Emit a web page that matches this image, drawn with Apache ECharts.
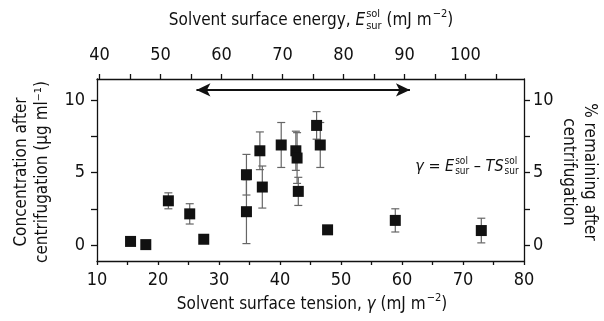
<!DOCTYPE html>
<html>
<head>
<meta charset="utf-8">
<script src="https://cdn.jsdelivr.net/npm/echarts@6/dist/echarts.min.js"></script>
<style>
  html, body { margin: 0; padding: 0; background: #fff; }
  #chart { width: 604px; height: 321px; }
</style>
</head>
<body>
<div id="chart"></div>
<script>
// solvent surface tension (mJ m-2), concentration (ug/ml), error half-width
const tension = [15.5, 18.0, 21.7, 25.2, 27.5, 34.5, 34.5, 36.7, 37.1, 40.2, 42.6, 42.8, 43.0, 46.0, 46.6, 47.8, 58.9, 73.0];
const concentration = [0.25, 0.03, 3.05, 2.15, 0.4, 4.85, 2.3, 6.5, 4.0, 6.9, 6.5, 6.0, 3.7, 8.25, 6.9, 1.05, 1.7, 1.0];
const errors = [0, 0, 0.55, 0.7, 0, 1.4, 2.2, 1.3, 1.45, 1.55, 1.35, 1.75, 0.97, 0.95, 1.55, 0.2, 0.8, 0.85];

const bottomTicks = [10, 15, 20, 25, 30, 35, 40, 45, 50, 55, 60, 65, 70, 75, 80];
const bottomLabels = [10, 20, 30, 40, 50, 60, 70, 80];
const topTicks = [40, 45, 50, 55, 60, 65, 70, 75, 80, 85, 90, 95, 100, 105];
const topLabels = [40, 50, 60, 70, 80, 90, 100];
const yTicks = [0, 2.5, 5, 7.5, 10];
const yLabels = [0, 5, 10];

// good-solvent window arrow
const arrowFrom = 26.3;
const arrowTo = 61.3;
const arrowLevel = 10.7;

const F = "'Liberation Sans Narrow', 'DejaVu Sans Condensed', sans-serif";
const INK = '#111';

const ctx = document.createElement('canvas').getContext('2d');
function textWidth(t, size, italic) {
  ctx.font = (italic ? 'italic ' : '') + size + 'px ' + F;
  return ctx.measureText(t).width;
}

// lay out text pieces (with stacked sup/sub) centred on cx, cy
function formula(parts, cx, cy, size) {
  const small = Math.round(size * 0.64);
  let widths = parts.map(p => {
    if (p.t !== undefined) return textWidth(p.t, size, p.it);
    return Math.max(p.sup ? textWidth(p.sup, small) : 0, p.sub ? textWidth(p.sub, small) : 0) + 1;
  });
  const total = widths.reduce((a, b) => a + b, 0);
  let x = cx - total / 2;
  const out = [];
  parts.forEach((p, i) => {
    if (p.t !== undefined) {
      out.push({ type: 'text', x: x, y: cy, style: { text: p.t, fontSize: size, fontFamily: F, fontStyle: p.it ? 'italic' : 'normal', fill: INK, align: 'left', verticalAlign: 'middle' } });
    } else {
      if (p.sup) out.push({ type: 'text', x: x + 1, y: cy - size * 0.38, style: { text: p.sup, fontSize: small, fontFamily: F, fill: INK, align: 'left', verticalAlign: 'middle' } });
      if (p.sub) out.push({ type: 'text', x: x + 1, y: cy + size * 0.3, style: { text: p.sub, fontSize: small, fontFamily: F, fill: INK, align: 'left', verticalAlign: 'middle' } });
    }
    x += widths[i];
  });
  return out;
}

function rotated(text, x, y, rot, size) {
  return { type: 'text', x: x, y: y, rotation: rot, style: { text: text, fontSize: size, fontFamily: F, fill: INK, align: 'center', verticalAlign: 'middle' } };
}

const labelStyle = { color: INK, fontSize: 18, fontFamily: F };
const lineStyle = { color: INK, width: 1.3 };

const graphics = [].concat(
  formula([{ t: 'Solvent surface energy, ' }, { t: 'E', it: true }, { sup: 'sol', sub: 'sur' }, { t: ' (mJ m' }, { sup: '−2' }, { t: ')' }], 311, 21, 17),
  formula([{ t: 'Solvent surface tension, ' }, { t: 'γ', it: true }, { t: ' (mJ m' }, { sup: '−2' }, { t: ')' }], 312, 305, 17),
  formula([{ t: 'γ', it: true }, { t: ' = ' }, { t: 'E', it: true }, { sup: 'sol', sub: 'sur' }, { t: ' – ' }, { t: 'TS', it: true }, { sup: 'sol', sub: 'sur' }], 467, 167, 16),
  [
    rotated('Concentration after', 22, 172, Math.PI / 2, 17),
    rotated('centrifugation (μg ml⁻¹)', 43, 172, Math.PI / 2, 17),
    rotated('% remaining after', 589, 172, -Math.PI / 2, 17),
    rotated('centrifugation', 568, 172, -Math.PI / 2, 17)
  ]
);

const chart = echarts.init(document.getElementById('chart'));

chart.setOption({
  animation: false,
  grid: { left: 97, right: 80, top: 79, bottom: 60, containLabel: false },
  xAxis: [
    {
      type: 'value', position: 'bottom', min: 10, max: 80,
      axisLine: { show: true, onZero: false, lineStyle: lineStyle },
      axisTick: { show: true, customValues: bottomTicks, length: 4, lineStyle: lineStyle },
      axisLabel: { customValues: bottomLabels, margin: 10, ...labelStyle },
      splitLine: { show: false }
    },
    {
      type: 'value', position: 'top', min: 39.6, max: 109.6,
      axisLine: { show: true, onZero: false, lineStyle: lineStyle },
      axisTick: { show: true, customValues: topTicks, length: 5, lineStyle: lineStyle },
      axisLabel: { customValues: topLabels, margin: 15, ...labelStyle },
      splitLine: { show: false }
    }
  ],
  yAxis: [
    {
      type: 'value', position: 'left', min: -1.1, max: 11.45,
      axisLine: { show: true, onZero: false, lineStyle: lineStyle },
      axisTick: { show: true, customValues: yTicks, length: 6, lineStyle: lineStyle },
      axisLabel: { customValues: yLabels, margin: 12, ...labelStyle },
      splitLine: { show: false }
    },
    {
      type: 'value', position: 'right', min: -1.1, max: 11.45,
      axisLine: { show: true, onZero: false, lineStyle: lineStyle },
      axisTick: { show: true, customValues: yTicks, length: 6, lineStyle: lineStyle },
      axisLabel: { customValues: yLabels, margin: 9, ...labelStyle },
      splitLine: { show: false }
    }
  ],
  series: [
    {
      type: 'custom',
      xAxisIndex: 0, yAxisIndex: 0,
      data: tension.map((x, i) => [x, concentration[i] - errors[i], concentration[i] + errors[i]]),
      encode: { x: 0, y: [1, 2] },
      silent: true,
      z: 1,
      renderItem: function (params, api) {
        const x = api.value(0), lo = api.value(1), hi = api.value(2);
        if (hi - lo < 0.01) return null;
        const top = api.coord([x, hi]);
        const bot = api.coord([x, lo]);
        const w = 4;
        const st = { stroke: '#666', lineWidth: 1.2 };
        return {
          type: 'group',
          children: [
            { type: 'line', shape: { x1: top[0], y1: top[1], x2: bot[0], y2: bot[1] }, style: st },
            { type: 'line', shape: { x1: top[0] - w, y1: top[1], x2: top[0] + w, y2: top[1] }, style: st },
            { type: 'line', shape: { x1: bot[0] - w, y1: bot[1], x2: bot[0] + w, y2: bot[1] }, style: st }
          ]
        };
      }
    },
    {
      type: 'scatter',
      xAxisIndex: 0, yAxisIndex: 0,
      data: tension.map((x, i) => [x, concentration[i]]),
      symbol: 'rect',
      symbolSize: 11,
      itemStyle: { color: INK, opacity: 1 },
      z: 3,
      emphasis: { disabled: true },
      markLine: {
        silent: true,
        symbol: ['arrow', 'arrow'],
        symbolSize: [10, 14],
        label: { show: false },
        lineStyle: { color: INK, width: 2, type: 'solid' },
        emphasis: { disabled: true },
        data: [[{ coord: [arrowFrom, arrowLevel] }, { coord: [arrowTo, arrowLevel] }]]
      }
    }
  ],
  graphic: graphics
});
</script>
</body>
</html>
